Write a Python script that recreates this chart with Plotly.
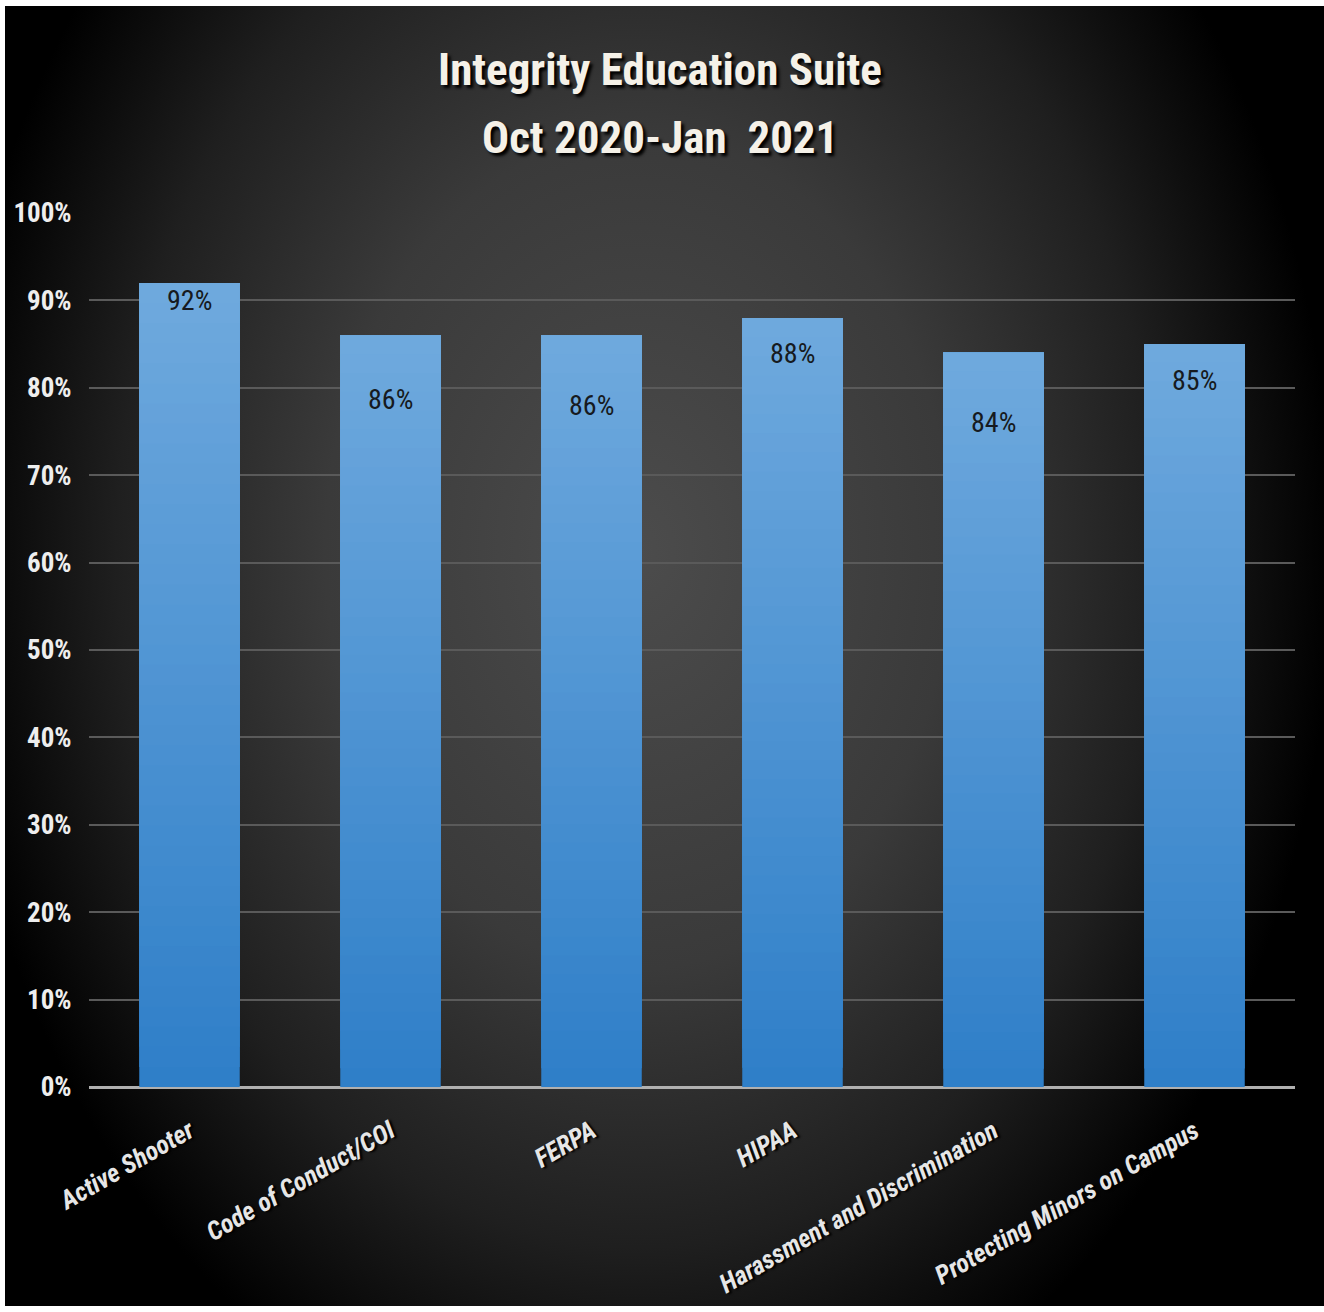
import base64
import plotly.graph_objects as go

# Completion rates by course
courses = [
    "Active Shooter",
    "Code of Conduct/COI",
    "FERPA",
    "HIPAA",
    "Harassment and Discrimination",
    "Protecting Minors on Campus",
]
completion_pct = [92, 86, 86, 88, 84, 85]
pct_labels = ["92%", "86%", "86%", "88%", "84%", "85%"]
y_ticks = [0, 10, 20, 30, 40, 50, 60, 70, 80, 90, 100]
title_lines = ["Integrity Education Suite", "Oct 2020-Jan  2021"]

W, H = 1324, 1312
L, R, T, B = 89, 29, 213, 225
PW, PH = W - L - R, H - T - B

COND = "Roboto Condensed, Open Sans Condensed, sans-serif"

# dark vignette backdrop as an SVG radial gradient
svg = f"""<svg xmlns='http://www.w3.org/2000/svg' width='{W}' height='{H}' viewBox='0 0 {W} {H}' preserveAspectRatio='none'>
<defs><radialGradient id='g' cx='0.48' cy='0.42' r='0.62' gradientTransform='translate(0.48 0.42) scale(0.85 1.15) translate(-0.48 -0.42)'>
<stop offset='0' stop-color='#4c4c4c'/>
<stop offset='0.45' stop-color='#3a3a3a'/>
<stop offset='0.75' stop-color='#1f1f1f'/>
<stop offset='1' stop-color='#000000'/>
</radialGradient></defs>
<rect width='{W}' height='{H}' fill='url(#g)'/></svg>"""
bg_uri = "data:image/svg+xml;base64," + base64.b64encode(svg.encode()).decode()

# backdrop extent in pixels (white frame on top, left and bottom)
bx0, bx1, by0, by1 = 5, W, 6, H - 6


def px_to_paper_x(px):
    return (px - L) / PW


def px_to_paper_y(py):
    return (H - B - py) / PH


fig = go.Figure()

# vertical gradient in each bar: stacked opaque layers, lighter toward the top
bottom_rgb = (47, 127, 200)
top_rgb = (112, 170, 222)
N = 40
for k in range(N):
    f = k / N
    c = tuple(round(bottom_rgb[i] + (top_rgb[i] - bottom_rgb[i]) * f) for i in range(3))
    fig.add_trace(go.Bar(
        x=courses,
        y=[v * (1 - f) for v in completion_pct],
        base=[v * f for v in completion_pct],
        width=0.5,
        marker=dict(color=f"rgb{c}", line=dict(width=0)),
        hoverinfo="skip",
        showlegend=False,
    ))

# value labels inside the bars
label_drop_px = [18, 64, 70, 36, 70, 36]
for c, v, t, d in zip(courses, completion_pct, pct_labels, label_drop_px):
    fig.add_annotation(
        x=c, y=v, text=t, showarrow=False, yanchor="middle", yshift=-d,
        font=dict(family=COND, size=28, color="#161a20"),
    )

# two-line title
for line, yc in zip(title_lines, [69, 137]):
    fig.add_annotation(
        xref="paper", yref="paper", x=px_to_paper_x(660), y=px_to_paper_y(yc),
        text=line, showarrow=False, xanchor="center", yanchor="middle",
        font=dict(family=COND, size=45, color="#f5f1e8", weight="bold",
                  shadow="3px 3px 3px #000000"),
    )

fig.add_layout_image(dict(
    source=bg_uri, xref="paper", yref="paper",
    x=px_to_paper_x(bx0), y=px_to_paper_y(by0),
    sizex=(bx1 - bx0) / PW, sizey=(by1 - by0) / PH,
    xanchor="left", yanchor="top", sizing="stretch", layer="below",
))

fig.update_layout(
    width=W, height=H,
    margin=dict(l=L, r=R, t=T, b=B, autoexpand=False),
    paper_bgcolor="white",
    plot_bgcolor="rgba(0,0,0,0)",
    barmode="overlay",
    bargap=0.5,
    xaxis=dict(
        automargin=False,
        tickangle=-30,
        tickfont=dict(family=COND, size=26, color="#e6e6e6", style="italic",
                      weight="bold", shadow="2px 2px 2px #000000"),
        showgrid=False,
        showline=False,
        zeroline=False,
        ticks="outside", ticklen=18, tickcolor="rgba(0,0,0,0)",
    ),
    yaxis=dict(
        automargin=False,
        range=[0, 100],
        tickvals=y_ticks,
        ticktext=[f"{v}%" for v in y_ticks],
        tickfont=dict(family=COND, size=27, color="#eeeeee", weight="bold"),
        showgrid=True, gridcolor="#5a5a5a", gridwidth=2,
        zeroline=True, zerolinecolor="#b0b0b0", zerolinewidth=3,
        ticks="outside", ticklen=11, tickcolor="rgba(0,0,0,0)",
        showline=False,
    ),
)

fig.write_html("out.html")
